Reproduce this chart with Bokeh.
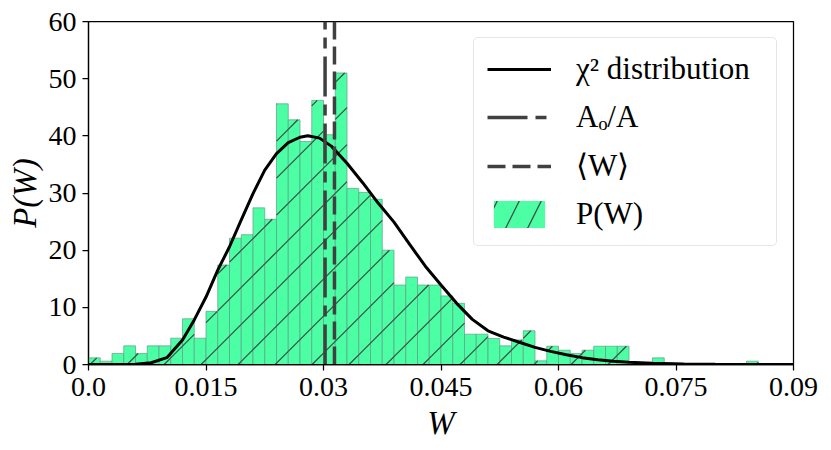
import math
import numpy as np
from bokeh.plotting import figure
from bokeh.models import FixedTicker, Legend, LegendItem, ColumnDataSource
from bokeh.embed import file_html
from bokeh.resources import INLINE

# ---------------- data ----------------
bin_width = 0.0015
hist_density = [
    1.16, 0.58, 1.93, 3.26, 1.93, 3.26, 3.26, 4.6, 8.0, 4.6,
    9.3, 17.4, 22.1, 22.7, 27.4, 25.4, 45.6, 42.8, 39.0, 46.2,
    40.2, 51.0, 30.8, 30.1, 28.9, 20.0, 13.9, 15.3, 13.9, 13.9,
    12.0, 10.7, 5.3, 5.3, 4.55, 3.26, 4.3, 5.9, 0.64, 3.2,
    2.5, 1.93, 2.5, 3.2, 3.2, 3.2, 0.0, 0.0, 1.16, 0.0,
    0.0, 0.0, 0.0, 0.0, 0.0, 0.0, 0.58,
]
curve_w = [0.0, 0.004, 0.006, 0.008, 0.010, 0.012, 0.0135, 0.015, 0.0165, 0.018,
           0.0195, 0.021, 0.0225, 0.024, 0.0255, 0.027, 0.028, 0.0295, 0.031, 0.033,
           0.035, 0.037, 0.039, 0.041, 0.043, 0.045, 0.047, 0.049, 0.051, 0.053,
           0.055, 0.057, 0.059, 0.061, 0.063, 0.065, 0.067, 0.069, 0.072, 0.076,
           0.080, 0.085, 0.09]
curve_p = [0.0, 0.0, 0.05, 0.3, 1.2, 4.3, 7.8, 11.8, 16.5, 20.6,
           25.3, 29.9, 34.0, 36.9, 38.8, 39.75, 40.0, 39.6, 38.2, 35.2,
           31.8, 28.2, 24.9, 21.0, 17.2, 13.9, 10.7, 7.9, 5.9, 4.8,
           3.9, 3.0, 2.3, 1.7, 1.2, 0.85, 0.55, 0.38, 0.2, 0.08,
           0.03, 0.01, 0.0]
a_ratio = 0.0302
w_mean = 0.0314
x_ticks = [0.0, 0.015, 0.03, 0.045, 0.06, 0.075, 0.09]
x_tick_labels = ["0.0", "0.015", "0.03", "0.045", "0.06", "0.075", "0.09"]
y_ticks = [0, 10, 20, 30, 40, 50, 60]
x_title = "W"
y_title = "P(W)"
legend_labels = ["\u03c7\u00b2 distribution", "A\u2092/A", "\u27e8W\u27e9", "P(W)"]

FONT = "Liberation Serif"
FRAME_W, FRAME_H = 705, 343
HATCH_STEP, HATCH_PHASE = 37.0, 1.6   # hatch spacing / phase in screen px
FILL = "#4cffa5"
EDGE = "#5e9e86"
HATCH = "#3a3a3a"

# ---------------- figure ----------------
p = figure(frame_width=FRAME_W, frame_height=FRAME_H,
           x_range=(x_ticks[0], x_ticks[-1]), y_range=(y_ticks[0], y_ticks[-1]),
           output_backend="svg", toolbar_location=None,
           min_border_left=88, min_border_right=30,
           min_border_top=21, min_border_bottom=80)
p.background_fill_color = "white"
p.border_fill_color = "white"
p.xgrid.visible = False
p.ygrid.visible = False
p.outline_line_color = "black"
p.outline_line_width = 1.25
p.outline_line_alpha = 1.0

p.xaxis.ticker = FixedTicker(ticks=x_ticks)
p.xaxis.major_label_overrides = {t: l for t, l in zip(x_ticks, x_tick_labels)}
p.yaxis.ticker = FixedTicker(ticks=y_ticks)

for ax in (p.xaxis[0], p.yaxis[0]):
    ax.axis_line_color = "black"
    ax.axis_line_width = 1.25
    ax.major_tick_line_color = "black"
    ax.major_tick_line_width = 1.25
    ax.major_tick_out = 6
    ax.major_tick_in = 0
    ax.minor_tick_line_color = None
    ax.major_label_text_font = FONT
    ax.major_label_text_font_size = "28px"
    ax.major_label_text_color = "black"
    ax.axis_label_text_font = FONT
    ax.axis_label_text_font_size = "33px"
    ax.axis_label_text_font_style = "italic"
    ax.axis_label_text_color = "black"

p.xaxis.axis_label = x_title
p.yaxis.axis_label = y_title
p.xaxis.major_label_standoff = 7
p.yaxis.major_label_standoff = 6
p.xaxis.axis_label_standoff = 6
p.yaxis.axis_label_standoff = 3

# ---------------- histogram ----------------
edges = np.arange(len(hist_density) + 1) * bin_width
src = ColumnDataSource(dict(left=edges[:-1], right=edges[1:], top=hist_density))
hist_r = p.quad(left="left", right="right", bottom=0, top="top", source=src,
                fill_color=FILL, line_color=EDGE, line_width=1, line_alpha=0.7)

# 45-degree "/" hatching, clipped to every bar (computed from the bar data)
px_x = FRAME_W / (x_ticks[-1] - x_ticks[0])
px_y = FRAME_H / (y_ticks[-1] - y_ticks[0])
hx0, hy0, hx1, hy1 = [], [], [], []
for l, r, t in zip(edges[:-1], edges[1:], hist_density):
    Xl, Xr, T = l * px_x, r * px_x, t * px_y
    kmin = math.floor((Xl - T - HATCH_PHASE) / HATCH_STEP) - 1
    kmax = math.ceil((Xr - HATCH_PHASE) / HATCH_STEP) + 1
    for k in range(kmin, kmax + 1):
        c = HATCH_PHASE + k * HATCH_STEP
        ya = max(0.0, Xl - c)
        yb = min(T, Xr - c)
        if yb > ya:
            hx0.append((ya + c) / px_x); hy0.append(ya / px_y)
            hx1.append((yb + c) / px_x); hy1.append(yb / px_y)
p.segment(x0=hx0, y0=hy0, x1=hx1, y1=hy1, line_color=HATCH,
          line_width=1.3, line_alpha=0.9)

# zero-area renderer used only for the legend swatch (green with hatching)
hist_leg = p.quad(left=[edges[0]], right=[edges[0]], bottom=[0], top=[0],
                  fill_color=FILL, line_color=None,
                  hatch_pattern="/", hatch_color=HATCH, hatch_alpha=0.9,
                  hatch_scale=44, hatch_weight=1.3)

# ---------------- curve and vertical lines ----------------
curve_r = p.line(curve_w, curve_p, line_color="black", line_width=3)

a_r = p.segment(x0=[a_ratio], x1=[a_ratio], y0=[y_ticks[0]], y1=[y_ticks[-1]],
                line_color="#404040", line_width=3.5, line_dash="40 8 11 8")
w_r = p.segment(x0=[w_mean], x1=[w_mean], y0=[y_ticks[0]], y1=[y_ticks[-1]],
                line_color="#404040", line_width=3.5, line_dash="18 7")

legend = Legend(items=[
    LegendItem(label=legend_labels[0], renderers=[curve_r]),
    LegendItem(label=legend_labels[1], renderers=[a_r]),
    LegendItem(label=legend_labels[2], renderers=[w_r]),
    LegendItem(label=legend_labels[3], renderers=[hist_leg]),
])
legend.location = "top_right"
legend.margin = 16
legend.label_text_font = FONT
legend.label_text_font_size = "31px"
legend.label_text_color = "black"
legend.glyph_width = 64
legend.glyph_height = 34
legend.label_height = 34
legend.label_width = 187
legend.label_standoff = 25
legend.spacing = 12
legend.padding = 13
legend.border_line_color = "#cccccc"
legend.border_line_width = 1
legend.background_fill_alpha = 0.8
if "border_radius" in Legend.properties():
    legend.border_radius = 5
p.add_layout(legend)

open("out.html", "w").write(file_html(p, INLINE))
